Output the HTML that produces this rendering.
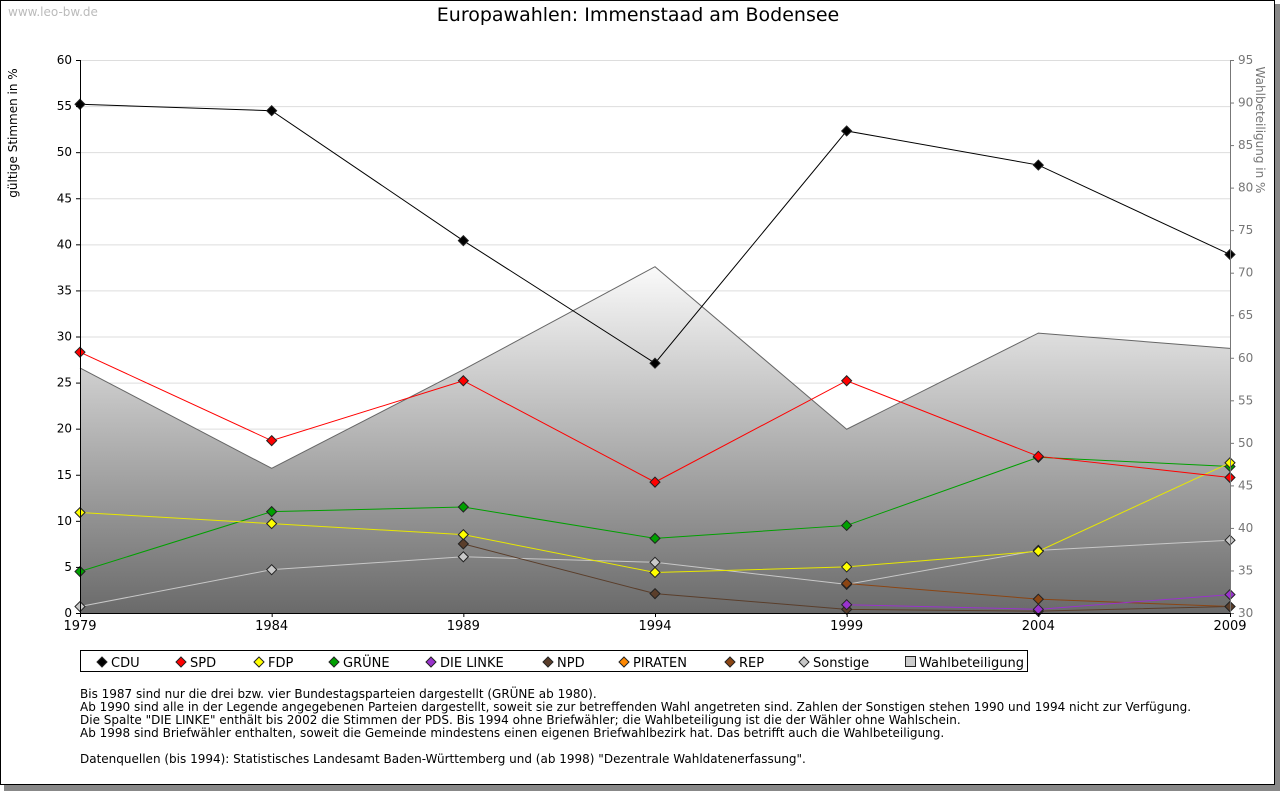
<!DOCTYPE html>
<html><head><meta charset="utf-8"><style>
body{margin:0;background:#fff;font-family:"DejaVu Sans","Liberation Sans",sans-serif;}
svg{display:block}
</style></head><body>
<svg id="c" width="1280" height="791" xmlns="http://www.w3.org/2000/svg">
<defs>
<linearGradient id="g" x1="0" y1="0" x2="0" y2="1"><stop offset="0" stop-color="#fafafa"/><stop offset="1" stop-color="#6a6a6a"/></linearGradient>
</defs>
<rect x="4" y="4" width="1276" height="787" fill="#888"/>
<rect x="0.5" y="0.5" width="1274" height="784" fill="#fff" stroke="#000"/>
<text x="8" y="16" font-size="12" fill="#bbb">www.leo-bw.de</text>
<text x="638" y="21" font-size="19" text-anchor="middle" fill="#000">Europawahlen: Immenstaad am Bodensee</text>
<text transform="translate(17,133) rotate(-90)" font-size="12" text-anchor="middle">gültige Stimmen in %</text>
<text transform="translate(1256,130) rotate(90)" font-size="12" fill="#777" text-anchor="middle">Wahlbeteiligung in %</text>
<g id="grid"></g><g id="area"></g><g id="lines"></g><g id="axes"></g>
<g>
<rect x="80.5" y="650.5" width="947" height="21" fill="#fff" stroke="#000"/>
<g id="leg"></g>
</g>
<g font-size="12">
<text x="80" y="698">Bis 1987 sind nur die drei bzw. vier Bundestagsparteien dargestellt (GRÜNE ab 1980).</text>
<text x="80" y="711">Ab 1990 sind alle in der Legende angegebenen Parteien dargestellt, soweit sie zur betreffenden Wahl angetreten sind. Zahlen der Sonstigen stehen 1990 und 1994 nicht zur Verfügung.</text>
<text x="80" y="724">Die Spalte "DIE LINKE" enthält bis 2002 die Stimmen der PDS. Bis 1994 ohne Briefwähler; die Wahlbeteiligung ist die der Wähler ohne Wahlschein.</text>
<text x="80" y="737">Ab 1998 sind Briefwähler enthalten, soweit die Gemeinde mindestens einen eigenen Briefwahlbezirk hat. Das betrifft auch die Wahlbeteiligung.</text>
<text x="80" y="763">Datenquellen (bis 1994): Statistisches Landesamt Baden-Württemberg und (ab 1998) "Dezentrale Wahldatenerfassung".</text>
</g>
</svg>
<script>
const years=[1979,1984,1989,1994,1999,2004,2009];
const cdu=[55.2,54.5,40.4,27.1,52.3,48.6,38.9];
const spd=[28.3,18.7,25.2,14.2,25.2,17.0,14.7];
const fdp=[10.9,9.7,8.5,4.4,5.0,6.7,16.3];
const gruene=[4.5,11.0,11.5,8.1,9.5,16.9,15.9];
const linke=[null,null,null,null,0.9,0.4,2.0];
const npd=[null,null,7.5,2.1,0.4,0.2,0.7];
const rep=[null,null,null,null,3.2,1.5,0.7];
const sonstige=[0.7,4.7,6.1,5.5,3.1,6.8,7.9];
const turnout=[58.8,47.0,58.6,70.7,51.6,62.9,61.1];
const yTicks=[0,5,10,15,20,25,30,35,40,45,50,55,60];
const y2Ticks=[30,35,40,45,50,55,60,65,70,75,80,85,90,95];
const NS="http://www.w3.org/2000/svg";
const L=80,R=1230,T=60,B=613;
const x=i=>L+(R-L)*i/(years.length-1);
const y=v=>B-(B-T)*v/60;
const y2=v=>B-(B-T)*(v-30)/65;
function mk(tag,attrs,parent){const e=document.createElementNS(NS,tag);for(const k in attrs)e.setAttribute(k,attrs[k]);parent.appendChild(e);return e;}
const grid=document.getElementById('grid'),area=document.getElementById('area'),lines=document.getElementById('lines'),axes=document.getElementById('axes');
yTicks.forEach(v=>{if(v>0){const l=mk('line',{x1:L,x2:R,y1:y(v)+.5,y2:y(v)+.5,stroke:'#ddd'},grid);}
 mk('line',{x1:L-4,x2:L,y1:y(v)+.5,y2:y(v)+.5,stroke:'#000'},axes);
 const t=mk('text',{x:L-8,y:y(v)+4,'font-size':12,'text-anchor':'end'},axes);t.textContent=v;});
y2Ticks.forEach(v=>{mk('line',{x1:R,x2:R+4,y1:y2(v)+.5,y2:y2(v)+.5,stroke:'#777'},axes);
 const t=mk('text',{x:R+8,y:y2(v)+4,'font-size':12,fill:'#777'},axes);t.textContent=v;});
let d='M'+L+','+B;turnout.forEach((v,i)=>d+=' L'+x(i)+','+y2(v));d+=' L'+R+','+B+' Z';
const a=mk('path',{d:d,fill:'url(#g)',stroke:'none'},area);
let d2='';turnout.forEach((v,i)=>d2+=(i?' L':'M')+x(i)+','+y2(v));
mk('path',{d:d2,fill:'none',stroke:'#666'},area);
mk('line',{x1:L+.5,x2:L+.5,y1:T,y2:B,stroke:'#000'},axes);
mk('line',{x1:R+.5,x2:R+.5,y1:T,y2:B,stroke:'#777'},axes);
mk('line',{x1:L,x2:R,y1:B+.5,y2:B+.5,stroke:'#000'},axes);
years.forEach((yr,i)=>{mk('line',{x1:x(i)+.5,x2:x(i)+.5,y1:B,y2:B+4,stroke:'#000'},axes);
 const t=mk('text',{x:x(i),y:B+17,'font-size':13,'text-anchor':'middle'},axes);t.textContent=yr;});
const series=[['sonstige',sonstige,'#c8c8c8'],['rep',rep,'#8b4513'],['npd',npd,'#5a3e2b'],['linke',linke,'#9933cc'],['gruene',gruene,'#00a000'],['fdp',fdp,'#ffff00'],['spd',spd,'#ff0000'],['cdu',cdu,'#000000']];
function diamond(cx,cy,col,p){return mk('path',{d:`M${cx},${cy-5}L${cx+5},${cy}L${cx},${cy+5}L${cx-5},${cy}Z`,fill:col,stroke:'#222','stroke-width':1},p);}
series.forEach(([n,vals,col])=>{let p='';vals.forEach((v,i)=>{if(v===null)return;p+=(p?' L':'M')+x(i)+','+y(v);});
 const l=mk('path',{d:p,fill:'none',stroke:col==='#ffff00'?'#e8e800':col},lines);
 vals.forEach((v,i)=>{if(v===null)return;const m=diamond(x(i),y(v),col,lines);});});
const leg=document.getElementById('leg');
const legItems=[['CDU','#000',92],['SPD','#f00',171],['FDP','#ff0',249],['GRÜNE','#00a000',324],['DIE LINKE','#93c',421],['NPD','#5a3e2b',538],['PIRATEN','#f80',614],['REP','#8b4513',720],['Sonstige','#c8c8c8',794],['Wahlbeteiligung','#ccc',900]];
legItems.forEach(([t,c,lx])=>{let m;if(t==='Wahlbeteiligung'){m=mk('rect',{x:lx+10.5-5,y:656.5,width:10,height:10,fill:c,stroke:'#222'},leg);}else{m=diamond(lx+10,662,c,leg);}
 
 const tx=mk('text',{x:lx+19,y:667,'font-size':13},leg);tx.textContent=t;});
</script>
</body></html>
